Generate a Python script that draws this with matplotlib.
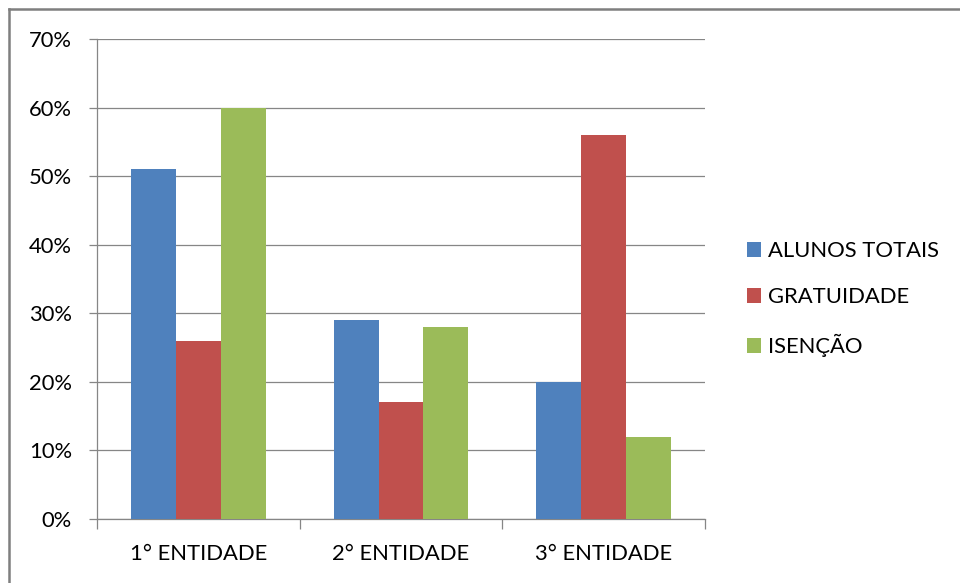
import matplotlib
matplotlib.use("Agg")
import matplotlib.pyplot as plt
from matplotlib.lines import Line2D
from matplotlib.patches import Patch
import numpy as np

categories = ["1° ENTIDADE", "2° ENTIDADE", "3° ENTIDADE"]
series_names = ["ALUNOS TOTAIS", "GRATUIDADE", "ISENÇÃO"]
alunos_totais = [51, 29, 20]
gratuidade = [26, 17, 56]
isencao = [60, 28, 12]
y_ticks = [0, 10, 20, 30, 40, 50, 60, 70]
y_tick_labels = ["0%", "10%", "20%", "30%", "40%", "50%", "60%", "70%"]

colors = ["#4F81BD", "#C0504D", "#9BBB59"]
gray = "#868686"

plt.rcParams['font.family'] = ['Lato', 'DejaVu Sans']
fs = 15.8

fig = plt.figure(figsize=(9.6, 5.83), dpi=100)
ax = fig.add_axes([97/960, 1-519/583, (705-97)/960, (519-39)/583])

x = np.arange(len(categories))
w = 0.222
for i, (vals, c) in enumerate(zip([alunos_totais, gratuidade, isencao], colors)):
    ax.bar(x + (i-1)*w, vals, width=w, color=c, zorder=3, label=series_names[i])

ax.set_xlim(-0.5, 2.5)
ax.set_ylim(0, 70)
ax.set_yticks(y_ticks)
ax.set_yticklabels(y_tick_labels, fontsize=fs, color="#000000")
ax.yaxis.grid(True, color=gray, linewidth=0.9, zorder=0)
ax.set_axisbelow(True)

ax.set_xticks(x)
ax.set_xticklabels(categories, fontsize=fs)
ax.set_xticks([-0.5, 0.5, 1.5, 2.5], minor=True)
ax.tick_params(axis='x', which='major', length=0, pad=18)
ax.tick_params(axis='x', which='minor', length=7, color=gray, width=0.9, direction='out')
ax.tick_params(axis='y', length=6, color=gray, width=0.9, direction='out', pad=12)

for s in ['top', 'right']:
    ax.spines[s].set_visible(False)
for s in ['left', 'bottom']:
    ax.spines[s].set_color(gray)
    ax.spines[s].set_linewidth(0.9)

handles = [Patch(facecolor=c, edgecolor='none') for c in colors]
fig.legend(handles, series_names, loc='center left', bbox_to_anchor=(747/960, 1-299/583),
           frameon=False, fontsize=fs, handlelength=0.65, handleheight=0.65,
           handletextpad=0.32, labelspacing=1.2, borderaxespad=0, borderpad=0)

# outer chart border (left and top edges visible)
fig.add_artist(Line2D([9/960, 9/960], [0, 1-9/583], transform=fig.transFigure, color="#7F7F7F", linewidth=1.8))
fig.add_artist(Line2D([9/960, 1], [1-9/583, 1-9/583], transform=fig.transFigure, color="#7F7F7F", linewidth=1.8))

fig.savefig("out.png", dpi=100)
